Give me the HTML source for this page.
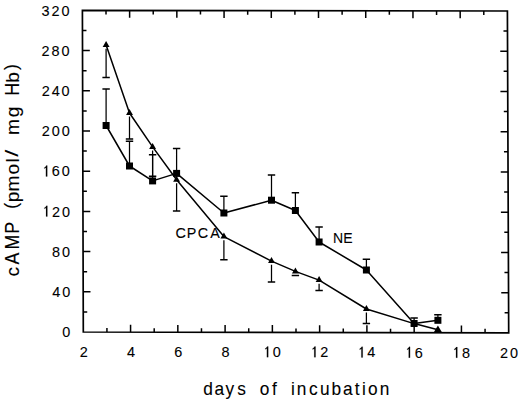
<!DOCTYPE html>
<html><head><meta charset="utf-8"><style>
html,body{margin:0;padding:0;background:#fff;}
body{width:520px;height:399px;overflow:hidden;font-family:"Liberation Sans", sans-serif;}
svg{display:block;}
</style></head><body>
<svg width="520" height="399" viewBox="0 0 520 399"><polygon points="82.4,10.4 507.4,11 508.7,332.9 83.3,332" fill="none" stroke="#000" stroke-width="1.7" stroke-linejoin="miter"/>
<path d="M106.93 332.05L106.93 328.05 M106.01 10.43L106.01 14.43 M130.57 332.1L130.57 324.8 M129.62 10.47L129.62 17.77 M154.2 332.15L154.2 328.15 M153.23 10.5L153.23 14.5 M177.83 332.2L177.83 324.9 M176.84 10.53L176.84 17.83 M201.47 332.25L201.47 328.25 M200.46 10.57L200.46 14.57 M225.1 332.3L225.1 325 M224.07 10.6L224.07 17.9 M248.73 332.35L248.73 328.35 M247.68 10.63L247.68 14.63 M272.37 332.4L272.37 325.1 M271.29 10.67L271.29 17.97 M296 332.45L296 328.45 M294.9 10.7L294.9 14.7 M319.63 332.5L319.63 325.2 M318.51 10.73L318.51 18.03 M343.27 332.55L343.27 328.55 M342.12 10.77L342.12 14.77 M366.9 332.6L366.9 325.3 M365.73 10.8L365.73 18.1 M390.53 332.65L390.53 328.65 M389.34 10.83L389.34 14.83 M414.17 332.7L414.17 325.4 M412.96 10.87L412.96 18.17 M437.8 332.75L437.8 328.75 M436.57 10.9L436.57 14.9 M461.43 332.8L461.43 325.5 M460.18 10.93L460.18 18.23 M485.07 332.85L485.07 328.85 M483.79 10.97L483.79 14.97 M83.24 311.9L87.24 311.9 M508.62 312.78L504.62 312.78 M83.19 291.8L90.49 291.8 M508.54 292.66L501.24 292.66 M83.13 271.7L87.13 271.7 M508.46 272.54L504.46 272.54 M83.07 251.6L90.37 251.6 M508.38 252.42L501.07 252.42 M83.02 231.5L87.02 231.5 M508.29 232.31L504.29 232.31 M82.96 211.4L90.26 211.4 M508.21 212.19L500.91 212.19 M82.91 191.3L86.91 191.3 M508.13 192.07L504.13 192.07 M82.85 171.2L90.15 171.2 M508.05 171.95L500.75 171.95 M82.79 151.1L86.79 151.1 M507.97 151.83L503.97 151.83 M82.74 131L90.04 131 M507.89 131.71L500.59 131.71 M82.68 110.9L86.68 110.9 M507.81 111.59L503.81 111.59 M82.62 90.8L89.92 90.8 M507.72 91.47L500.42 91.47 M82.57 70.7L86.57 70.7 M507.64 71.36L503.64 71.36 M82.51 50.6L89.81 50.6 M507.56 51.24L500.26 51.24 M82.46 30.5L86.46 30.5 M507.48 31.12L503.48 31.12" stroke="#000" stroke-width="1.5" fill="none"/>
<g font-family="&quot;Liberation Sans&quot;, sans-serif" fill="#000" stroke="#000" stroke-width="0.1"><text y="337.2" font-size="15.2" transform="scale(0.95,1)"><tspan x="65.51">0</tspan></text><text y="297" font-size="15.2" transform="scale(0.95,1)"><tspan x="54.93">4</tspan><tspan x="65.4">0</tspan></text><text y="256.8" font-size="15.2" transform="scale(0.95,1)"><tspan x="54.82">8</tspan><tspan x="65.3">0</tspan></text><text y="216.6" font-size="15.2" transform="scale(0.95,1)"><tspan x="54.72">2</tspan><tspan x="65.19">0</tspan></text><path transform="translate(42.03,216.6) scale(14.44,-15.2)" stroke-width="0.01" d="M0.37 0L0.37 0.709L0.3 0.709L0.265 0.655L0.21 0.605L0.16 0.575L0.16 0.51L0.2 0.53L0.275 0.57L0.275 0Z"/><text y="176.4" font-size="15.2" transform="scale(0.95,1)"><tspan x="54.61">6</tspan><tspan x="65.09">0</tspan></text><path transform="translate(41.93,176.4) scale(14.44,-15.2)" stroke-width="0.01" d="M0.37 0L0.37 0.709L0.3 0.709L0.265 0.655L0.21 0.605L0.16 0.575L0.16 0.51L0.2 0.53L0.275 0.57L0.275 0Z"/><text y="136.2" font-size="15.2" transform="scale(0.95,1)"><tspan x="44.04">2</tspan><tspan x="54.51">0</tspan><tspan x="64.98">0</tspan></text><text y="96" font-size="15.2" transform="scale(0.95,1)"><tspan x="43.93">2</tspan><tspan x="54.4">4</tspan><tspan x="64.88">0</tspan></text><text y="55.8" font-size="15.2" transform="scale(0.95,1)"><tspan x="43.83">2</tspan><tspan x="54.3">8</tspan><tspan x="64.77">0</tspan></text><text y="15.6" font-size="15.2" transform="scale(0.95,1)"><tspan x="43.72">3</tspan><tspan x="54.19">2</tspan><tspan x="64.67">0</tspan></text><text y="356.55" font-size="15.2" transform="scale(0.95,1)"><tspan x="83.88">2</tspan></text><text y="356.71" font-size="15.2" transform="scale(0.95,1)"><tspan x="133.68">4</tspan></text><text y="356.86" font-size="15.2" transform="scale(0.95,1)"><tspan x="183.34">6</tspan></text><text y="357.02" font-size="15.2" transform="scale(0.95,1)"><tspan x="233.14">8</tspan></text><text y="357.17" font-size="15.2" transform="scale(0.95,1)"><tspan x="287.21">0</tspan></text><path transform="translate(262.9,357.17) scale(14.44,-15.2)" stroke-width="0.01" d="M0.37 0L0.37 0.709L0.3 0.709L0.265 0.655L0.21 0.605L0.16 0.575L0.16 0.51L0.2 0.53L0.275 0.57L0.275 0Z"/><text y="357.33" font-size="15.2" transform="scale(0.95,1)"><tspan x="337.05">2</tspan></text><path transform="translate(310.25,357.33) scale(14.44,-15.2)" stroke-width="0.01" d="M0.37 0L0.37 0.709L0.3 0.709L0.265 0.655L0.21 0.605L0.16 0.575L0.16 0.51L0.2 0.53L0.275 0.57L0.275 0Z"/><text y="357.49" font-size="15.2" transform="scale(0.95,1)"><tspan x="386.65">4</tspan></text><path transform="translate(357.37,357.49) scale(14.44,-15.2)" stroke-width="0.01" d="M0.37 0L0.37 0.709L0.3 0.709L0.265 0.655L0.21 0.605L0.16 0.575L0.16 0.51L0.2 0.53L0.275 0.57L0.275 0Z"/><text y="357.64" font-size="15.2" transform="scale(0.95,1)"><tspan x="436.51">6</tspan></text><path transform="translate(404.74,357.64) scale(14.44,-15.2)" stroke-width="0.01" d="M0.37 0L0.37 0.709L0.3 0.709L0.265 0.655L0.21 0.605L0.16 0.575L0.16 0.51L0.2 0.53L0.275 0.57L0.275 0Z"/><text y="357.8" font-size="15.2" transform="scale(0.95,1)"><tspan x="486.26">8</tspan></text><path transform="translate(452,357.8) scale(14.44,-15.2)" stroke-width="0.01" d="M0.37 0L0.37 0.709L0.3 0.709L0.265 0.655L0.21 0.605L0.16 0.575L0.16 0.51L0.2 0.53L0.275 0.57L0.275 0Z"/><text y="357.95" font-size="15.2" transform="scale(0.95,1)"><tspan x="526.35">2</tspan><tspan x="536.82">0</tspan></text></g>
<path d="M106.1 48.7L106.1 77.5 M129.5 116.6L129.5 138.9 M152.6 150.5L152.6 176.3 M176.6 183.3L176.6 210.9 M223.9 240.2L223.9 259.7 M271.5 264.7L271.5 281.9 M295.4 275L295.4 275.6 M319.1 283.7L319.1 290.4 M366.4 312.6L366.4 323.4" stroke="#000" stroke-width="1.25" fill="none"/><path d="M102.4 77.5L109.8 77.5 M125.8 138.9L133.2 138.9 M148.9 176.3L156.3 176.3 M172.9 210.9L180.3 210.9 M220.2 259.7L227.6 259.7 M267.8 281.9L275.2 281.9 M291.7 275.6L299.1 275.6 M315.4 290.4L322.8 290.4 M362.7 323.4L370.1 323.4" stroke="#000" stroke-width="1.5" fill="none"/>
<path d="M106.1 125.5L106.1 89.1 M129.5 166L129.5 141.2 M152.6 180.9L152.6 154.7 M176.6 173.4L176.6 148.6 M223.9 213L223.9 196.3 M271.5 200.2L271.5 175 M295.4 210.5L295.4 192.8 M319.1 242L319.1 227.1 M366.4 270L366.4 259.3 M414.1 323.5L414.1 318 M437.9 320.3L437.9 314.8" stroke="#000" stroke-width="1.25" fill="none"/><path d="M102.4 89.1L109.8 89.1 M125.8 141.2L133.2 141.2 M148.9 154.7L156.3 154.7 M172.9 148.6L180.3 148.6 M220.2 196.3L227.6 196.3 M267.8 175L275.2 175 M291.7 192.8L299.1 192.8 M315.4 227.1L322.8 227.1 M362.7 259.3L370.1 259.3 M410.4 318L417.8 318 M434.2 314.8L441.6 314.8" stroke="#000" stroke-width="1.5" fill="none"/>
<polyline points="106.1,45.1 129.5,113 152.6,146.9 176.6,179.7 223.9,236.6 271.5,261.1 295.4,271.4 319.1,280.1 366.4,309 414.1,323.6 437.9,329.8" fill="none" stroke="#000" stroke-width="1.5" stroke-linejoin="round"/>
<polyline points="106.1,125.5 129.5,166 152.6,180.9 176.6,173.4 223.9,213 271.5,200.2 295.4,210.5 319.1,242 366.4,270 414.1,323.5 437.9,320.3" fill="none" stroke="#000" stroke-width="1.5" stroke-linejoin="round"/>
<g fill="#000"><rect x="102.6" y="122" width="7" height="7"/><rect x="126" y="162.5" width="7" height="7"/><rect x="149.1" y="177.4" width="7" height="7"/><rect x="173.1" y="169.9" width="7" height="7"/><rect x="220.4" y="209.5" width="7" height="7"/><rect x="268" y="196.7" width="7" height="7"/><rect x="291.9" y="207" width="7" height="7"/><rect x="315.6" y="238.5" width="7" height="7"/><rect x="362.9" y="266.5" width="7" height="7"/><rect x="410.6" y="320" width="7" height="7"/><rect x="434.4" y="316.8" width="7" height="7"/><polygon points="106.1,41.1 102.65,47.1 109.55,47.1"/><polygon points="129.5,109 126.05,115 132.95,115"/><polygon points="152.6,142.9 149.15,148.9 156.05,148.9"/><polygon points="176.6,175.7 173.15,181.7 180.05,181.7"/><polygon points="223.9,232.6 220.45,238.6 227.35,238.6"/><polygon points="271.5,257.1 268.05,263.1 274.95,263.1"/><polygon points="295.4,267.4 291.95,273.4 298.85,273.4"/><polygon points="319.1,276.1 315.65,282.1 322.55,282.1"/><polygon points="366.4,305 362.95,311 369.85,311"/><polygon points="414.1,319.6 410.65,325.6 417.55,325.6"/><polygon points="437.9,325.4 434,332 441.8,332"/></g>
<g font-family="&quot;Liberation Sans&quot;, sans-serif" fill="#000" stroke="#000" stroke-width="0.1"><text y="237.8" font-size="15.4" transform="scale(0.93,1)"><tspan x="188.7">C</tspan><tspan x="200.82">P</tspan><tspan x="212.62">C</tspan><tspan x="226.05">A</tspan></text><text y="242.9" font-size="14.8" transform="scale(0.95,1)"><tspan x="350.44">N</tspan><tspan x="361.41">E</tspan></text><text y="394.6" font-size="19.2" transform="scale(0.9,1)"><tspan x="225.77">d</tspan><tspan x="238.42">a</tspan><tspan x="250.7">y</tspan><tspan x="263.72">s</tspan><tspan x="288.66">o</tspan><tspan x="302.29">f</tspan><tspan x="323.21">i</tspan><tspan x="329.7">n</tspan><tspan x="343.32">c</tspan><tspan x="355.56">u</tspan><tspan x="368.39">b</tspan><tspan x="381.03">a</tspan><tspan x="394.09">t</tspan><tspan x="402.15">i</tspan><tspan x="408.77">o</tspan><tspan x="421.98">n</tspan></text></g>
<g font-family="&quot;Liberation Sans&quot;, sans-serif" fill="#000" stroke="#000" stroke-width="0.1"><text transform="translate(19,271.6) rotate(-90) scale(1.0,1)" x="-4.95" font-size="19.2">c</text><text transform="translate(19,258.55) rotate(-90) scale(0.87,1)" x="-6.8" font-size="20.4">A</text><text transform="translate(19,242) rotate(-90) scale(0.87,1)" x="-8.5" font-size="20.4">M</text><text transform="translate(19,227.6) rotate(-90) scale(0.87,1)" x="-7.1" font-size="20.4">P</text><text transform="translate(17,205.3) rotate(-90) scale(0.9,1)" x="-3.74" font-size="19.2">(</text><text transform="translate(19,196.65) rotate(-90) scale(1.0,1)" x="-5.55" font-size="19.2">p</text><text transform="translate(19,183.5) rotate(-90) scale(1.0,1)" x="-8" font-size="19.2">m</text><text transform="translate(19,169.1) rotate(-90) scale(1.0,1)" x="-5.34" font-size="19.2">o</text><text transform="translate(19,160.35) rotate(-90) scale(1.0,1)" x="-2.14" font-size="19.2">l</text><text transform="translate(18.4,153.3) rotate(-90) scale(1.3,1)" x="-2.67" font-size="19.2">/</text><text transform="translate(19,127.05) rotate(-90) scale(1.0,1)" x="-8" font-size="19.2">m</text><text transform="translate(19,112.25) rotate(-90) scale(1.0,1)" x="-5.12" font-size="19.2">g</text><text transform="translate(19,89.45) rotate(-90) scale(0.87,1)" x="-7.37" font-size="20.4">H</text><text transform="translate(19,77.25) rotate(-90) scale(1.0,1)" x="-5.55" font-size="19.2">b</text><text transform="translate(17,67.5) rotate(-90) scale(0.9,1)" x="-2.66" font-size="19.2">)</text></g></svg>
</body></html>
